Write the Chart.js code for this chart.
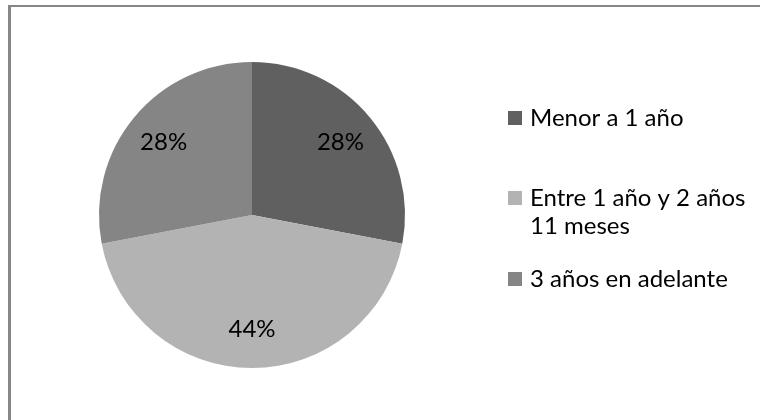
<!DOCTYPE html>
<html>
<head>
<meta charset="utf-8">
<script src="https://cdn.jsdelivr.net/npm/chart.js@4/dist/chart.umd.min.js"></script>
<style>
  html, body { margin: 0; padding: 0; background: #ffffff; }
  #wrap { position: relative; width: 760px; height: 420px; overflow: hidden; background: #fff; }
  #frame { position: absolute; left: 8px; top: 5px; width: 800px; height: 460px;
           border-left: 3px solid #878787; border-top: 2px solid #878787; box-sizing: border-box; }
  canvas { position: absolute; left: 0; top: 0; }
</style>
</head>
<body>
<div id="wrap">
  <div id="frame"></div>
  <canvas id="c" width="760" height="420"></canvas>
</div>
<script>
// ---- data ----
const categories = ['Menor a 1 año', 'Entre 1 año y 2 años 11 meses', '3 años en adelante'];
const percentages = [28, 44, 28];
const sliceColors = ['#606060', '#b3b3b3', '#858585'];

// ---- style / layout ----
const FONT = 'Lato, "Open Sans", "Liberation Sans", sans-serif';
const LABEL_FONT_SIZE = 24;
const LEGEND_FONT_SIZE = 24;
const LEGEND_X = 508;
const LEGEND_SQUARE = 14;
const LEGEND_TEXT_X = 530;
const LEGEND_MAX_W = 228;
const LEGEND_LINE_H = 28;
const LEGEND_ROW_CENTER = [118, 198, 279];
const LABEL_RADIUS_FACTOR = 0.75;

function wrapText(ctx, text, maxW) {
  const words = text.split(' ');
  const lines = [];
  let cur = '';
  for (const w of words) {
    const t = cur ? cur + ' ' + w : w;
    if (ctx.measureText(t).width > maxW && cur) { lines.push(cur); cur = w; }
    else cur = t;
  }
  if (cur) lines.push(cur);
  return lines;
}

const labelsPlugin = {
  id: 'pctLabels',
  afterDatasetsDraw(chart) {
    const ctx = chart.ctx;
    const meta = chart.getDatasetMeta(0);
    ctx.save();
    ctx.font = LABEL_FONT_SIZE + 'px ' + FONT;
    ctx.fillStyle = '#000000';
    ctx.textAlign = 'center';
    ctx.textBaseline = 'middle';
    meta.data.forEach((arc, i) => {
      const p = arc.getProps(['x', 'y', 'startAngle', 'endAngle', 'outerRadius'], true);
      const mid = (p.startAngle + p.endAngle) / 2;
      const r = p.outerRadius * LABEL_RADIUS_FACTOR;
      const x = p.x + Math.cos(mid) * r;
      const y = p.y + Math.sin(mid) * r;
      ctx.fillText(percentages[i] + '%', x, y);
    });
    ctx.restore();
  }
};

const legendPlugin = {
  id: 'sideLegend',
  afterDraw(chart) {
    const ctx = chart.ctx;
    ctx.save();
    ctx.font = LEGEND_FONT_SIZE + 'px ' + FONT;
    ctx.textAlign = 'left';
    ctx.textBaseline = 'alphabetic';
    chart.data.labels.forEach((lab, i) => {
      const cy = LEGEND_ROW_CENTER[i];
      ctx.fillStyle = chart.data.datasets[0].backgroundColor[i];
      ctx.fillRect(LEGEND_X, cy - LEGEND_SQUARE / 2, LEGEND_SQUARE, LEGEND_SQUARE);
      ctx.fillStyle = '#000000';
      const lines = wrapText(ctx, lab, LEGEND_MAX_W);
      lines.forEach((ln, k) => {
        ctx.fillText(ln, LEGEND_TEXT_X, cy + 8 + k * LEGEND_LINE_H);
      });
    });
    ctx.restore();
  }
};

new Chart(document.getElementById('c'), {
  type: 'pie',
  data: {
    labels: categories,
    datasets: [{
      data: percentages,
      backgroundColor: sliceColors,
      borderWidth: 0
    }]
  },
  options: {
    responsive: false,
    animation: false,
    layout: { padding: { left: 99, right: 355, top: 62, bottom: 52 } },
    plugins: {
      legend: { display: false },
      tooltip: { enabled: false },
      title: { display: false }
    }
  },
  plugins: [labelsPlugin, legendPlugin]
});
</script>
</body>
</html>
